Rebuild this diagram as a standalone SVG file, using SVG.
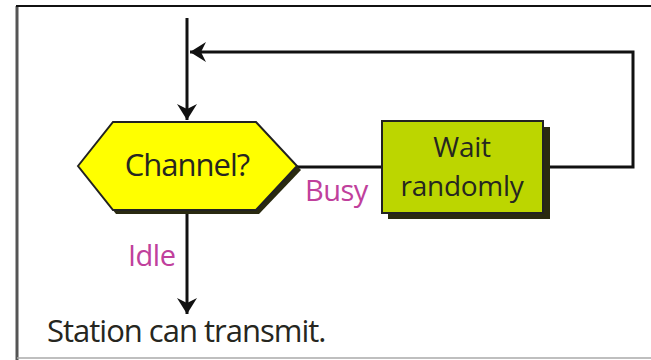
<svg xmlns="http://www.w3.org/2000/svg" width="651" height="360" viewBox="0 0 651 360">
<defs>
<style>
.t{font-family:"Open Sans","Liberation Sans",sans-serif;font-size:31px;letter-spacing:-1px;fill:#262620}
.tb{font-family:"Open Sans","Liberation Sans",sans-serif;font-size:28px;letter-spacing:-0.3px;fill:#262620}
.lbl{font-family:"Open Sans","Liberation Sans",sans-serif;font-size:29px;letter-spacing:-0.5px;fill:#c0409c}
.ln{stroke:#111;stroke-width:3;fill:none}
</style>
<marker id="ah" viewBox="0 0 16 20" refX="16" refY="10" markerWidth="16" markerHeight="20" markerUnits="userSpaceOnUse" orient="auto">
<path d="M0,0 L16,10 L0,20 L5,10 Z" fill="#111"/>
</marker>
</defs>
<rect width="651" height="360" fill="#fff"/>
<g id="frame">
<line x1="17" y1="6" x2="17" y2="360" stroke="#555" stroke-width="3"/>
<line x1="16" y1="6" x2="651" y2="6" stroke="#111" stroke-width="2"/>
<line x1="17" y1="358" x2="651" y2="358" stroke="#aaa" stroke-width="1.5"/>
</g>
<g id="connectors">
<line class="ln" x1="187" y1="18" x2="187" y2="120" marker-end="url(#ah)"/>
<polyline class="ln" points="543,167 633,167 633,52 190,52" marker-end="url(#ah)"/>
<line class="ln" x1="297" y1="167" x2="382" y2="167"/>
<line class="ln" x1="187" y1="212" x2="187" y2="314" marker-end="url(#ah)"/>
</g>
<g id="channel">
<polygon points="82,170 116,126 259,126 301,170 259,214 116,214" fill="#2a2a10"/>
<polygon points="78,166 113,122 256,122 297,166 256,210 113,210" fill="#ffff00" stroke="#222" stroke-width="2"/>
<text class="t" x="187" y="176" text-anchor="middle">Channel?</text>
</g>
<g id="wait">
<rect x="388" y="127" width="162" height="92" fill="#2a2a10"/>
<rect x="382" y="121" width="161" height="92" fill="#bcd600" stroke="#222" stroke-width="2"/>
<text class="tb" x="462" y="157" text-anchor="middle">Wait</text>
<text class="tb" x="462" y="196" text-anchor="middle">randomly</text>
</g>
<g id="labels">
<text class="lbl" x="305" y="201">Busy</text>
<text class="lbl" x="128" y="266">Idle</text>
</g>
<g id="result">
<text class="t" x="47" y="342">Station can transmit.</text>
</g>
</svg>
